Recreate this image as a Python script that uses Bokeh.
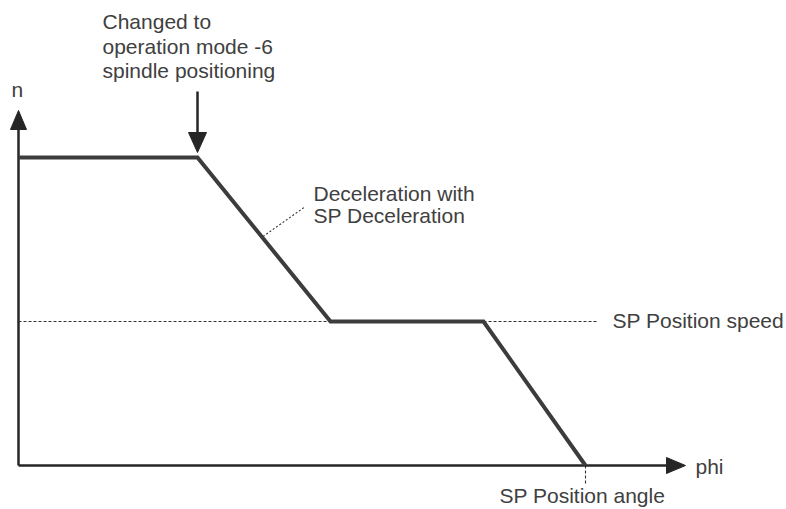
from bokeh.plotting import figure
from bokeh.models import Range1d
from bokeh.core.properties import value
from bokeh.embed import file_html
from bokeh.resources import INLINE

# ---- data (diagram units: 1 unit ~ 1 px) ----
phi_pts = [0, 179, 312, 465, 567]          # angle positions of the profile corners
n_pts = [308, 308, 144, 144, 0]            # speed at those corners
n_pos_speed = 144                          # SP Position speed
phi_pos_angle = 567                        # SP Position angle
phi_axis_end = 667
n_axis_end = 355
phi_change = 179                           # where mode is changed

labels_change = ["Changed to", "operation mode -6", "spindle positioning"]
labels_decel = ["Deceleration with", "SP Deceleration"]
label_speed = "SP Position speed"
label_angle = "SP Position angle"
label_x = "phi"
label_y = "n"

FONT = value("Liberation Sans")
TXT = "#404040"
LINE = "#3c3c3c"
AX = "#262626"

p = figure(width=786, height=509, output_backend="svg", toolbar_location=None,
           x_range=Range1d(-18, 768), y_range=Range1d(-44, 465),
           min_border=0, outline_line_color=None)
p.axis.visible = False
p.grid.visible = False
p.background_fill_color = "white"
p.border_fill_color = "white"

# reference lines (dotted)
p.line([0, phi_pos_angle + 12], [n_pos_speed, n_pos_speed], line_color="#333333",
       line_width=1.1, line_dash="3 2")
p.line([phi_pos_angle, phi_pos_angle], [0, -18], line_color="#333333",
       line_width=1.1, line_dash="3 2")
# leader line for deceleration
mid_phi = phi_pts[1] + 0.5 * (phi_pts[2] - phi_pts[1])
mid_n = n_pts[1] + 0.5 * (n_pts[2] - n_pts[1])
p.line([mid_phi - 1, mid_phi + 40], [mid_n + 3, mid_n + 32], line_color="#333333",
       line_width=1.1, line_dash="2 2")

# axes
hw, hl = 8, 19
p.line([0, phi_axis_end - hl], [0, 0], line_color=AX, line_width=2.5)
p.line([0, 0], [0, n_axis_end - hl], line_color=AX, line_width=2.5)
p.patches(xs=[[phi_axis_end - hl, phi_axis_end, phi_axis_end - hl],
              [-hw, 0, hw]],
          ys=[[hw, 0, -hw],
              [n_axis_end - hl, n_axis_end, n_axis_end - hl]],
          fill_color=AX, line_color=AX, line_width=1)

# profile
p.line(phi_pts, n_pts, line_color=LINE, line_width=4, line_join="miter")

# "changed to" arrow
tip = n_pts[1] + 5
p.line([phi_change, phi_change], [tip + 18, tip + 61], line_color=AX, line_width=2.5)
p.patch([phi_change - 9, phi_change, phi_change + 9], [tip + 20, tip, tip + 20],
        fill_color=AX, line_color=AX)

# texts
fs = "21px"
dy = 8
p.text(x=[84] * 3, y=[436 + dy, 411.5 + dy, 387 + dy], text=labels_change, text_font=FONT,
       text_font_size=fs, text_color=TXT, text_baseline="alphabetic")
p.text(x=[295] * 2, y=[264 + dy, 242 + dy], text=labels_decel, text_font=FONT,
       text_font_size=fs, text_color=TXT, text_baseline="alphabetic")
p.text(x=[594], y=[137 + dy], text=[label_speed], text_font=FONT,
       text_font_size=fs, text_color=TXT, text_baseline="alphabetic")
p.text(x=[481], y=[-38 + dy], text=[label_angle], text_font=FONT,
       text_font_size=fs, text_color=TXT, text_baseline="alphabetic")
p.text(x=[677], y=[-9 + dy], text=[label_x], text_font=FONT,
       text_font_size=fs, text_color=TXT, text_baseline="alphabetic")
p.text(x=[-7], y=[368 + dy], text=[label_y], text_font=FONT,
       text_font_size=fs, text_color=TXT, text_baseline="alphabetic")

open("out.html", "w").write(file_html(p, INLINE))
